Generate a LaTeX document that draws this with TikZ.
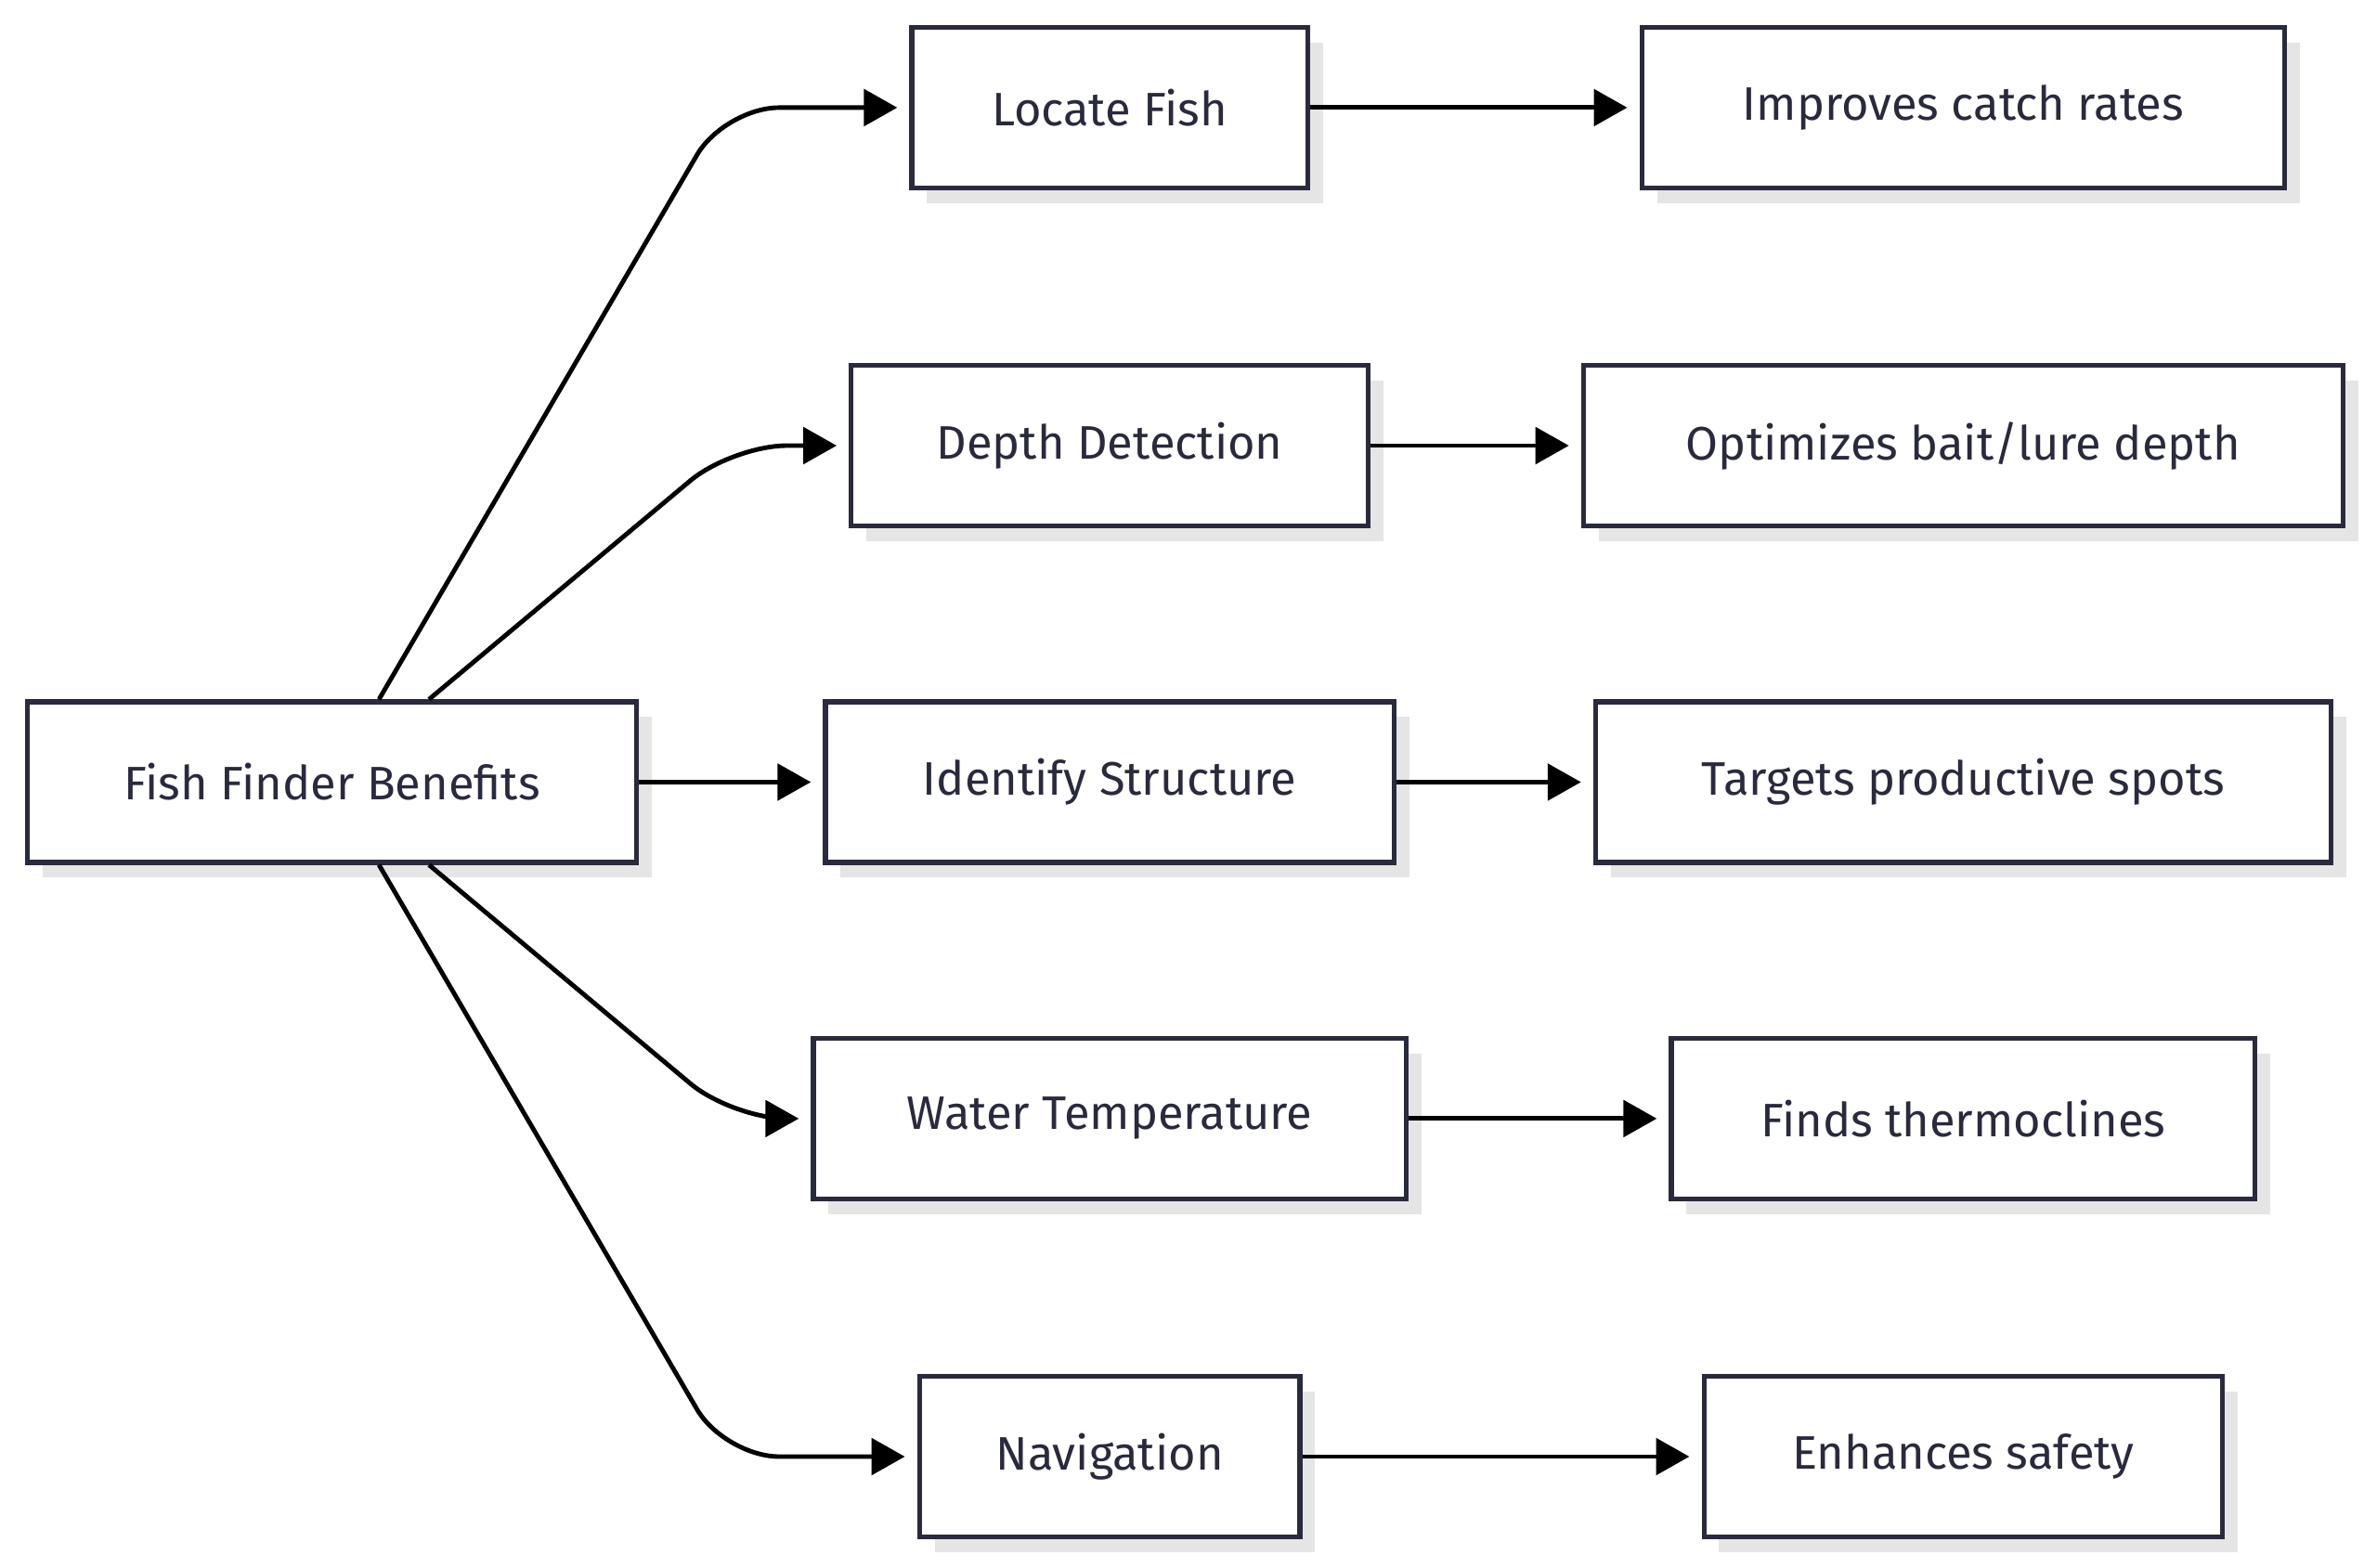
\documentclass[tikz,border=0pt]{standalone}
\usepackage{fontspec}
\setmainfont{Fira Sans}
\usetikzlibrary{arrows.meta,calc}
\definecolor{ink}{HTML}{2A2A3E}
\begin{document}
\begin{tikzpicture}[x=0.5pt,y=-0.5pt,
  box/.style={draw=ink,line width=1.6pt,fill=white,text=ink,minimum height=53pt,
    font=\fontsize{15.5}{18}\selectfont,inner sep=0pt,
    preaction={fill=black!10,draw=none,transform canvas={xshift=5pt,yshift=-5pt}}},
  link/.style={line width=1.5pt,-{Triangle[length=11pt,width=12pt]},rounded corners=18pt}]
\useasboundingbox (0,0) rectangle (1568,1034);

%Left node
\node[box,minimum width=201pt] (fish) at (219,516) {Fish Finder Benefits};

%Middle column
\node[box,minimum width=130.5pt] (locate) at (732,71) {Locate Fish};
\node[box,minimum width=170.5pt] (depth) at (732,294) {Depth Detection};
\node[box,minimum width=187.5pt] (struct) at (732,516) {Identify Structure};
\node[box,minimum width=195.5pt] (water) at (732,738) {Water Temperature};
\node[box,minimum width=125.5pt] (nav) at (732,961) {Navigation};

%Right column
\node[box,minimum width=212pt] (catch) at (1295,71) {Improves catch rates};
\node[box,minimum width=250.5pt] (bait) at (1295,294) {Optimizes bait/lure depth};
\node[box,minimum width=242.5pt] (spots) at (1295,516) {Targets productive spots};
\node[box,minimum width=192.5pt] (thermo) at (1295,738) {Finds thermoclines};
\node[box,minimum width=171pt] (safety) at (1295,961) {Enhances safety};

%Connectors
\draw[link] ($(fish.north)+(31,0)$) -- (478,71) -- ($(locate.west)+(-8,0)$);
\draw[link] ($(fish.north)+(64,0)$) -- (483,294) -- ($(depth.west)+(-8,0)$);
\draw[link] (fish.east) -- ($(struct.west)+(-8,0)$);
\draw[link] ($(fish.south)+(64,0)$) -- (483,738) -- ($(water.west)+(-8,0)$);
\draw[link] ($(fish.south)+(31,0)$) -- (478,961) -- ($(nav.west)+(-8,0)$);
\draw[link] (locate.east) -- ($(catch.west)+(-8,0)$);
\draw[link] (depth.east) -- ($(bait.west)+(-8,0)$);
\draw[link] (struct.east) -- ($(spots.west)+(-8,0)$);
\draw[link] (water.east) -- ($(thermo.west)+(-8,0)$);
\draw[link] (nav.east) -- ($(safety.west)+(-8,0)$);
\end{tikzpicture}
\end{document}
